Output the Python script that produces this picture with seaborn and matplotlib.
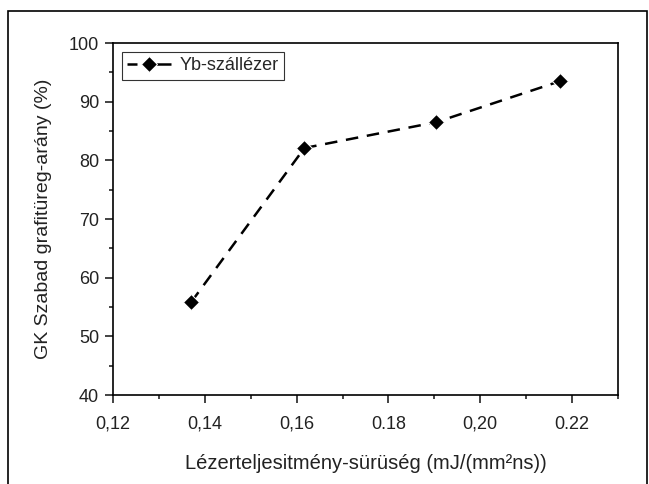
import matplotlib
matplotlib.use("Agg")
import matplotlib.pyplot as plt
import seaborn as sns
import pandas as pd
from matplotlib.patches import Rectangle
from matplotlib.ticker import MultipleLocator

# Adatok (leolvasva az eredeti ábráról)
energia = [0.137, 0.1617, 0.1904, 0.2174]
arany = [55.8, 82.1, 86.5, 93.5]
x_ticks = [0.12, 0.14, 0.16, 0.18, 0.20, 0.22]
x_tick_labels = ["0,12", "0,14", "0,16", "0.18", "0,20", "0.22"]
y_ticks = [40, 50, 60, 70, 80, 90, 100]

df = pd.DataFrame({"E": energia, "A": arany})

sns.set_style("ticks")
plt.rcParams["font.family"] = ["Liberation Sans", "DejaVu Sans"]

fig = plt.figure(figsize=(6.49, 4.84), dpi=100)
ax = fig.add_axes([113 / 649, 1 - 395 / 484, (618 - 113) / 649, (395 - 43) / 484])

sns.lineplot(data=df, x="E", y="A", ax=ax, color="black", marker="D",
             markersize=8, linestyle=(0, (5, 3.5)), linewidth=1.8,
             label="Yb-szállézer")

ax.set_xlim(0.12, 0.23)
ax.set_ylim(40, 100)
ax.set_xticks(x_ticks)
ax.set_xticklabels(x_tick_labels)
ax.set_yticks(y_ticks)
ax.xaxis.set_minor_locator(MultipleLocator(0.01))
ax.yaxis.set_minor_locator(MultipleLocator(5))
ax.tick_params(which="major", direction="out", length=6, width=1.2,
               labelsize=13, colors="#222222")
ax.tick_params(axis="x", which="major", pad=9)
ax.tick_params(axis="y", which="major", pad=4)
ax.tick_params(which="minor", direction="out", length=3, width=1.2)
for s in ax.spines.values():
    s.set_linewidth(1.2)
    s.set_color("black")

ax.set_xlabel("Lézerteljesitmény-sürüség (mJ/(mm²ns))", fontsize=14.5,
              color="#222222", labelpad=15)
ax.set_ylabel("GK Szabad grafitüreg-arány (%)", fontsize=14,
              color="#222222", labelpad=12)

leg = ax.legend(loc="upper left", fontsize=13, frameon=True, fancybox=False,
                handlelength=2.4, borderpad=0.3, borderaxespad=0.5,
                handletextpad=0.5, edgecolor="black")
leg.get_frame().set_linewidth(0.8)
leg.get_lines()[0].set_linestyle((0, (4, 2, 30, 2)))

# külső keret
fig.patches.append(Rectangle((8 / 649, -0.1), (647 - 8) / 649, 1.1 - 11 / 484,
                             transform=fig.transFigure, fill=False,
                             edgecolor="black", linewidth=1.2))

fig.savefig("out.png", dpi=100)
